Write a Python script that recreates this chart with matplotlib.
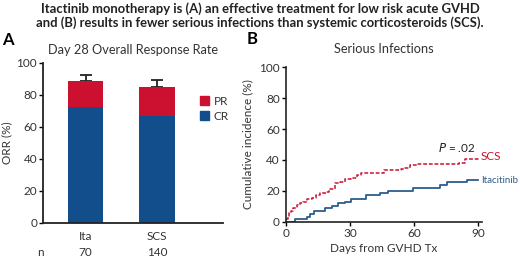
import matplotlib
matplotlib.use("Agg")
import matplotlib.pyplot as plt
from matplotlib.patches import Patch

plt.rcParams['font.family'] = ['Lato', 'DejaVu Sans']

# Panel A data
groups = ["Ita", "SCS"]
n_patients = ["70", "140"]
cr = [72.0, 66.5]
pr = [16.5, 18.5]
err_up = [4.0, 4.0]

# Panel B data (step curves, day -> cumulative incidence %)
ita_days = [0, 4.2, 9.7, 11.3, 13.2, 18.2, 21.3, 24.4, 27.5, 30.6, 37.6, 43.8, 47.7, 59.6, 72.1, 75.2, 84.5, 90]
ita_vals = [0, 1.5, 3.0, 4.8, 7.0, 8.6, 10.2, 11.8, 13.0, 15.0, 17.0, 18.8, 20.0, 21.5, 24.0, 25.5, 27.0, 27.0]
scs_days = [0, 0.8, 1.6, 2.5, 3.5, 5.0, 6.5, 8.0, 10.0, 12.0, 14.0, 16.0, 18.5, 20.0, 23.0, 25.5, 27.5, 30.5,
            33.0, 35.3, 46.0, 54.0, 55.5, 58.0, 61.5, 81.0, 84.0, 90]
scs_vals = [2.0, 4.0, 5.5, 7.0, 9.0, 10.5, 12.0, 13.0, 14.5, 15.5, 17.0, 18.5, 19.5, 21.0, 25.0, 26.0, 27.5, 28.5,
            30.0, 31.5, 33.5, 34.0, 35.0, 36.5, 37.5, 38.0, 40.5, 42.0]

red = "#cc1130"
blue = "#124e8c"
line_blue = "#2c5d8c"
tick_col = "#333333"
fs = 8.5

fig = plt.figure(figsize=(5.2, 2.6), dpi=100)

fig.text(0.5, 0.966, "Itactinib monotherapy is (A) an effective treatment for low risk acute GVHD",
         ha='center', va='center', fontsize=9.4, fontweight='bold', color='#222222')
fig.text(0.5, 0.912, "and (B) results in fewer serious infections than systemic corticosteroids (SCS).",
         ha='center', va='center', fontsize=9.4, fontweight='bold', color='#222222')
fig.text(0.004, 0.845, "A", fontsize=12, fontweight='bold', va='center')
fig.text(0.474, 0.850, "B", fontsize=12, fontweight='bold', va='center')

# Panel A
ax1 = fig.add_axes([0.0821, 0.1435, 0.346, 0.6157])
x = [0, 1]
ax1.bar(x, cr, width=0.5, color=blue, label="CR", zorder=2)
ax1.bar(x, pr, width=0.5, bottom=cr, color=red, label="PR", zorder=2)
tops = [c + p for c, p in zip(cr, pr)]
ax1.errorbar(x, tops, yerr=[[0, 0], err_up], fmt='none', ecolor='#222222',
             elinewidth=1.3, capsize=4, capthick=1.3, zorder=1)
ax1.set_xlim(-0.6, 1.92)
ax1.set_ylim(0, 100)
ax1.set_yticks([0, 20, 40, 60, 80, 100])
ax1.set_xticks(x)
ax1.set_xticklabels(groups)
ax1.spines['top'].set_visible(False)
ax1.spines['right'].set_visible(False)
for s in ['left', 'bottom']:
    ax1.spines[s].set_linewidth(1.3)
    ax1.spines[s].set_color('#222222')
ax1.tick_params(axis='y', length=3, width=1, labelsize=fs, labelcolor=tick_col, pad=1)
ax1.tick_params(axis='x', length=0, labelsize=fs, labelcolor=tick_col, pad=6)
ax1.set_ylabel("ORR (%)", fontsize=fs, color=tick_col)
ax1.yaxis.set_label_coords(-0.17, 0.5)
ax1.set_title("Day 28 Overall Response Rate", fontsize=9.2, color='#333333', pad=6)
handles = [Patch(color=red, label="PR"), Patch(color=blue, label="CR")]
ax1.legend(handles=handles, loc='upper left', bbox_to_anchor=(189 / 520, (260 - 85) / 260),
           bbox_transform=fig.transFigure, frameon=False, fontsize=fs, handlelength=0.8,
           handleheight=0.8, handletextpad=0.4, labelspacing=0.35, labelcolor=tick_col)
fig.text(40 / 520, 1 - 252 / 260, "n", fontsize=fs, color=tick_col, ha='center', va='center')
for xi, nv in zip(x, n_patients):
    ax1.text(xi, -18.5, nv, fontsize=fs, color=tick_col, ha='center', va='center', clip_on=False)

# Panel B
ax2 = fig.add_axes([0.55, 0.1473, 0.376, 0.594])
ax2.step(ita_days, ita_vals, where='post', color=line_blue, lw=1.3)
ax2.step(scs_days, scs_vals, where='post', color=red, lw=1.1, linestyle=(0, (2.5, 1.2)))
ax2.set_xlim(0, 91.5)
ax2.set_ylim(0, 100)
ax2.set_xticks([0, 30, 60, 90])
ax2.set_yticks([0, 20, 40, 60, 80, 100])
ax2.spines['top'].set_visible(False)
ax2.spines['right'].set_visible(False)
for s in ['left', 'bottom']:
    ax2.spines[s].set_linewidth(1.2)
    ax2.spines[s].set_color('#222222')
ax2.tick_params(length=3, width=1, labelsize=fs, labelcolor=tick_col, pad=1.5)
ax2.set_ylabel("Cumulative incidence (%)", fontsize=fs, color=tick_col)
ax2.yaxis.set_label_coords(-0.165, 0.5)
ax2.set_xlabel("Days from GVHD Tx", fontsize=fs, color=tick_col, labelpad=3)
ax2.set_title("Serious Infections", fontsize=9.2, color='#333333', pad=10)
ax2.text(80, 48, "$P$ = .02", fontsize=fs, color='#222222', ha='center', va='center')
ax2.text(91.3, 42, "SCS", fontsize=fs, color=red, ha='left', va='center', clip_on=False)
ax2.text(91.3, 27, "Itacitinib", fontsize=7.0, color=line_blue, ha='left', va='center', clip_on=False)

fig.savefig("out.png", dpi=100)
